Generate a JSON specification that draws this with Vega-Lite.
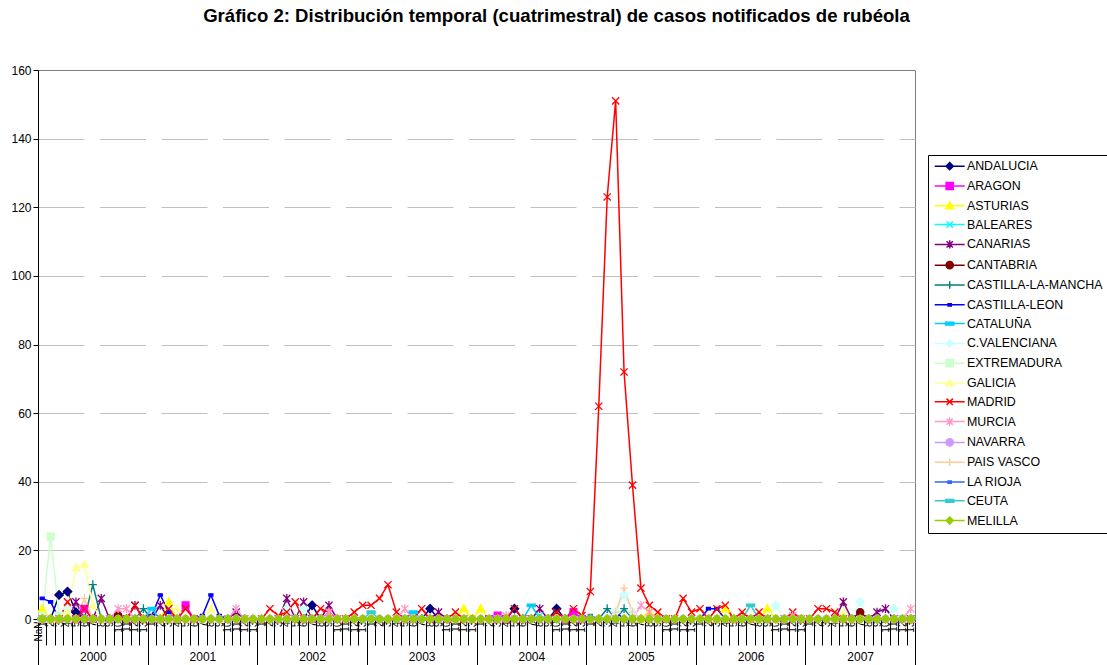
{
"$schema":"https://vega.github.io/schema/vega-lite/v6.json",
"width":877,"height":549,
"autosize":{"type":"none"},
"padding":{"left":38,"top":70,"right":192,"bottom":46},
"background":"white",
"title":{"text":"Gráfico 2: Distribución temporal (cuatrimestral) de casos notificados de rubéola","font":"Liberation Sans","fontSize":18.6,"fontWeight":"bold","color":"#000","anchor":"middle","frame":"group","dx":80,"offset":38},
"config":{"font":"Liberation Sans","view":{"stroke":"#808080"}},
"resolve":{"scale":{"x":"independent"},"axis":{"x":"independent"}},
"layer":[
{
"data":{"values":[
{"s":"ANDALUCIA","t":1,"v":0},{"s":"ANDALUCIA","t":2,"v":0},{"s":"ANDALUCIA","t":3,"v":7},{"s":"ANDALUCIA","t":4,"v":8},{"s":"ANDALUCIA","t":5,"v":2},{"s":"ANDALUCIA","t":6,"v":0},{"s":"ANDALUCIA","t":32,"v":0},{"s":"ANDALUCIA","t":33,"v":4},{"s":"ANDALUCIA","t":34,"v":0},{"s":"ANDALUCIA","t":46,"v":0},{"s":"ANDALUCIA","t":47,"v":3},{"s":"ANDALUCIA","t":48,"v":0},{"s":"ANDALUCIA","t":56,"v":0},{"s":"ANDALUCIA","t":57,"v":3},{"s":"ANDALUCIA","t":58,"v":0},{"s":"ANDALUCIA","t":61,"v":0},{"s":"ANDALUCIA","t":62,"v":3},{"s":"ANDALUCIA","t":63,"v":0},{"s":"ANDALUCIA","t":104,"v":0},
{"s":"ARAGON","t":1,"v":0},{"s":"ARAGON","t":5,"v":0},{"s":"ARAGON","t":6,"v":3},{"s":"ARAGON","t":7,"v":0},{"s":"ARAGON","t":17,"v":0},{"s":"ARAGON","t":18,"v":4},{"s":"ARAGON","t":19,"v":0},{"s":"ARAGON","t":54,"v":0},{"s":"ARAGON","t":55,"v":1},{"s":"ARAGON","t":56,"v":0},{"s":"ARAGON","t":63,"v":0},{"s":"ARAGON","t":64,"v":2},{"s":"ARAGON","t":65,"v":0},{"s":"ARAGON","t":104,"v":0},
{"s":"ASTURIAS","t":1,"v":3},{"s":"ASTURIAS","t":2,"v":0},{"s":"ASTURIAS","t":15,"v":0},{"s":"ASTURIAS","t":16,"v":5},{"s":"ASTURIAS","t":17,"v":0},{"s":"ASTURIAS","t":50,"v":0},{"s":"ASTURIAS","t":51,"v":3},{"s":"ASTURIAS","t":52,"v":0},{"s":"ASTURIAS","t":53,"v":3},{"s":"ASTURIAS","t":54,"v":0},{"s":"ASTURIAS","t":72,"v":0},{"s":"ASTURIAS","t":73,"v":2},{"s":"ASTURIAS","t":74,"v":0},{"s":"ASTURIAS","t":81,"v":0},{"s":"ASTURIAS","t":82,"v":3},{"s":"ASTURIAS","t":83,"v":0},{"s":"ASTURIAS","t":86,"v":0},{"s":"ASTURIAS","t":87,"v":3},{"s":"ASTURIAS","t":88,"v":0},{"s":"ASTURIAS","t":104,"v":0},
{"s":"BALEARES","t":1,"v":0},{"s":"BALEARES","t":59,"v":0},{"s":"BALEARES","t":60,"v":1},{"s":"BALEARES","t":61,"v":0},{"s":"BALEARES","t":104,"v":0},
{"s":"CANARIAS","t":1,"v":0},{"s":"CANARIAS","t":4,"v":0},{"s":"CANARIAS","t":5,"v":5},{"s":"CANARIAS","t":6,"v":0},{"s":"CANARIAS","t":7,"v":0},{"s":"CANARIAS","t":8,"v":6},{"s":"CANARIAS","t":9,"v":0},{"s":"CANARIAS","t":11,"v":0},{"s":"CANARIAS","t":12,"v":4},{"s":"CANARIAS","t":13,"v":0},{"s":"CANARIAS","t":14,"v":0},{"s":"CANARIAS","t":15,"v":4},{"s":"CANARIAS","t":16,"v":0},{"s":"CANARIAS","t":23,"v":0},{"s":"CANARIAS","t":24,"v":2},{"s":"CANARIAS","t":25,"v":0},{"s":"CANARIAS","t":29,"v":0},{"s":"CANARIAS","t":30,"v":6},{"s":"CANARIAS","t":31,"v":0},{"s":"CANARIAS","t":32,"v":5},{"s":"CANARIAS","t":33,"v":0},{"s":"CANARIAS","t":34,"v":0},{"s":"CANARIAS","t":35,"v":4},{"s":"CANARIAS","t":36,"v":0},{"s":"CANARIAS","t":47,"v":0},{"s":"CANARIAS","t":48,"v":2},{"s":"CANARIAS","t":49,"v":0},{"s":"CANARIAS","t":59,"v":0},{"s":"CANARIAS","t":60,"v":3},{"s":"CANARIAS","t":61,"v":0},{"s":"CANARIAS","t":95,"v":0},{"s":"CANARIAS","t":96,"v":5},{"s":"CANARIAS","t":97,"v":0},{"s":"CANARIAS","t":99,"v":0},{"s":"CANARIAS","t":100,"v":2},{"s":"CANARIAS","t":101,"v":3},{"s":"CANARIAS","t":102,"v":0},{"s":"CANARIAS","t":104,"v":0},
{"s":"CANTABRIA","t":1,"v":0},{"s":"CANTABRIA","t":9,"v":0},{"s":"CANTABRIA","t":10,"v":1},{"s":"CANTABRIA","t":11,"v":0},{"s":"CANTABRIA","t":97,"v":0},{"s":"CANTABRIA","t":98,"v":2},{"s":"CANTABRIA","t":99,"v":0},{"s":"CANTABRIA","t":104,"v":0},
{"s":"CASTILLA-LA-MANCHA","t":1,"v":0},{"s":"CASTILLA-LA-MANCHA","t":6,"v":0},{"s":"CASTILLA-LA-MANCHA","t":7,"v":10},{"s":"CASTILLA-LA-MANCHA","t":8,"v":0},{"s":"CASTILLA-LA-MANCHA","t":12,"v":0},{"s":"CASTILLA-LA-MANCHA","t":13,"v":3},{"s":"CASTILLA-LA-MANCHA","t":14,"v":0},{"s":"CASTILLA-LA-MANCHA","t":67,"v":0},{"s":"CASTILLA-LA-MANCHA","t":68,"v":3},{"s":"CASTILLA-LA-MANCHA","t":69,"v":0},{"s":"CASTILLA-LA-MANCHA","t":70,"v":3},{"s":"CASTILLA-LA-MANCHA","t":71,"v":0},{"s":"CASTILLA-LA-MANCHA","t":104,"v":0},
{"s":"CASTILLA-LEON","t":1,"v":6},{"s":"CASTILLA-LEON","t":2,"v":5},{"s":"CASTILLA-LEON","t":3,"v":0},{"s":"CASTILLA-LEON","t":13,"v":0},{"s":"CASTILLA-LEON","t":14,"v":1},{"s":"CASTILLA-LEON","t":15,"v":7},{"s":"CASTILLA-LEON","t":16,"v":2},{"s":"CASTILLA-LEON","t":17,"v":0},{"s":"CASTILLA-LEON","t":19,"v":0},{"s":"CASTILLA-LEON","t":20,"v":1},{"s":"CASTILLA-LEON","t":21,"v":7},{"s":"CASTILLA-LEON","t":22,"v":1},{"s":"CASTILLA-LEON","t":23,"v":0},{"s":"CASTILLA-LEON","t":68,"v":0},{"s":"CASTILLA-LEON","t":69,"v":2},{"s":"CASTILLA-LEON","t":70,"v":0},{"s":"CASTILLA-LEON","t":79,"v":0},{"s":"CASTILLA-LEON","t":80,"v":3},{"s":"CASTILLA-LEON","t":81,"v":3},{"s":"CASTILLA-LEON","t":82,"v":0},{"s":"CASTILLA-LEON","t":104,"v":0},
{"s":"CATALUÑA","t":1,"v":0},{"s":"CATALUÑA","t":13,"v":0},{"s":"CATALUÑA","t":14,"v":3},{"s":"CATALUÑA","t":15,"v":0},{"s":"CATALUÑA","t":44,"v":0},{"s":"CATALUÑA","t":45,"v":2},{"s":"CATALUÑA","t":46,"v":0},{"s":"CATALUÑA","t":58,"v":0},{"s":"CATALUÑA","t":59,"v":4},{"s":"CATALUÑA","t":60,"v":0},{"s":"CATALUÑA","t":104,"v":0},
{"s":"C.VALENCIANA","t":1,"v":0},{"s":"C.VALENCIANA","t":3,"v":0},{"s":"C.VALENCIANA","t":4,"v":3},{"s":"C.VALENCIANA","t":5,"v":0},{"s":"C.VALENCIANA","t":29,"v":0},{"s":"C.VALENCIANA","t":30,"v":3},{"s":"C.VALENCIANA","t":31,"v":0},{"s":"C.VALENCIANA","t":32,"v":3},{"s":"C.VALENCIANA","t":33,"v":0},{"s":"C.VALENCIANA","t":68,"v":0},{"s":"C.VALENCIANA","t":69,"v":2},{"s":"C.VALENCIANA","t":70,"v":7},{"s":"C.VALENCIANA","t":71,"v":2},{"s":"C.VALENCIANA","t":72,"v":0},{"s":"C.VALENCIANA","t":87,"v":0},{"s":"C.VALENCIANA","t":88,"v":4},{"s":"C.VALENCIANA","t":89,"v":0},{"s":"C.VALENCIANA","t":97,"v":0},{"s":"C.VALENCIANA","t":98,"v":5},{"s":"C.VALENCIANA","t":99,"v":0},{"s":"C.VALENCIANA","t":101,"v":0},{"s":"C.VALENCIANA","t":102,"v":3},{"s":"C.VALENCIANA","t":103,"v":0},{"s":"C.VALENCIANA","t":104,"v":0},
{"s":"EXTREMADURA","t":1,"v":1},{"s":"EXTREMADURA","t":2,"v":24},{"s":"EXTREMADURA","t":3,"v":1},{"s":"EXTREMADURA","t":4,"v":0},{"s":"EXTREMADURA","t":104,"v":0},
{"s":"GALICIA","t":1,"v":0},{"s":"GALICIA","t":3,"v":0},{"s":"GALICIA","t":4,"v":2},{"s":"GALICIA","t":5,"v":15},{"s":"GALICIA","t":6,"v":16},{"s":"GALICIA","t":7,"v":4},{"s":"GALICIA","t":8,"v":0},{"s":"GALICIA","t":16,"v":0},{"s":"GALICIA","t":17,"v":3},{"s":"GALICIA","t":18,"v":0},{"s":"GALICIA","t":20,"v":0},{"s":"GALICIA","t":21,"v":3},{"s":"GALICIA","t":22,"v":0},{"s":"GALICIA","t":95,"v":0},{"s":"GALICIA","t":96,"v":2},{"s":"GALICIA","t":97,"v":0},{"s":"GALICIA","t":104,"v":0},
{"s":"MADRID","t":1,"v":0},{"s":"MADRID","t":3,"v":0},{"s":"MADRID","t":4,"v":5},{"s":"MADRID","t":5,"v":0},{"s":"MADRID","t":6,"v":3},{"s":"MADRID","t":7,"v":0},{"s":"MADRID","t":11,"v":0},{"s":"MADRID","t":12,"v":4},{"s":"MADRID","t":13,"v":0},{"s":"MADRID","t":15,"v":0},{"s":"MADRID","t":16,"v":3},{"s":"MADRID","t":17,"v":0},{"s":"MADRID","t":18,"v":3},{"s":"MADRID","t":19,"v":0},{"s":"MADRID","t":27,"v":0},{"s":"MADRID","t":28,"v":3},{"s":"MADRID","t":29,"v":1},{"s":"MADRID","t":30,"v":2},{"s":"MADRID","t":31,"v":5},{"s":"MADRID","t":32,"v":0},{"s":"MADRID","t":33,"v":0},{"s":"MADRID","t":34,"v":3},{"s":"MADRID","t":35,"v":2},{"s":"MADRID","t":36,"v":0},{"s":"MADRID","t":37,"v":0},{"s":"MADRID","t":38,"v":2},{"s":"MADRID","t":39,"v":4},{"s":"MADRID","t":40,"v":4},{"s":"MADRID","t":41,"v":6},{"s":"MADRID","t":42,"v":10},{"s":"MADRID","t":43,"v":2},{"s":"MADRID","t":44,"v":0},{"s":"MADRID","t":45,"v":0},{"s":"MADRID","t":46,"v":3},{"s":"MADRID","t":47,"v":0},{"s":"MADRID","t":49,"v":0},{"s":"MADRID","t":50,"v":2},{"s":"MADRID","t":51,"v":0},{"s":"MADRID","t":56,"v":0},{"s":"MADRID","t":57,"v":3},{"s":"MADRID","t":58,"v":0},{"s":"MADRID","t":61,"v":0},{"s":"MADRID","t":62,"v":2},{"s":"MADRID","t":63,"v":0},{"s":"MADRID","t":64,"v":3},{"s":"MADRID","t":65,"v":1},{"s":"MADRID","t":66,"v":8},{"s":"MADRID","t":67,"v":62},{"s":"MADRID","t":68,"v":123},{"s":"MADRID","t":69,"v":151},{"s":"MADRID","t":70,"v":72},{"s":"MADRID","t":71,"v":39},{"s":"MADRID","t":72,"v":9},{"s":"MADRID","t":73,"v":4},{"s":"MADRID","t":74,"v":2},{"s":"MADRID","t":75,"v":0},{"s":"MADRID","t":76,"v":0},{"s":"MADRID","t":77,"v":6},{"s":"MADRID","t":78,"v":2},{"s":"MADRID","t":79,"v":3},{"s":"MADRID","t":80,"v":0},{"s":"MADRID","t":81,"v":3},{"s":"MADRID","t":82,"v":4},{"s":"MADRID","t":83,"v":0},{"s":"MADRID","t":84,"v":2},{"s":"MADRID","t":85,"v":0},{"s":"MADRID","t":86,"v":2},{"s":"MADRID","t":87,"v":0},{"s":"MADRID","t":89,"v":0},{"s":"MADRID","t":90,"v":2},{"s":"MADRID","t":91,"v":0},{"s":"MADRID","t":92,"v":0},{"s":"MADRID","t":93,"v":3},{"s":"MADRID","t":94,"v":3},{"s":"MADRID","t":95,"v":2},{"s":"MADRID","t":96,"v":0},{"s":"MADRID","t":104,"v":0},
{"s":"MURCIA","t":1,"v":0},{"s":"MURCIA","t":9,"v":0},{"s":"MURCIA","t":10,"v":3},{"s":"MURCIA","t":11,"v":3},{"s":"MURCIA","t":12,"v":0},{"s":"MURCIA","t":23,"v":0},{"s":"MURCIA","t":24,"v":3},{"s":"MURCIA","t":25,"v":0},{"s":"MURCIA","t":34,"v":0},{"s":"MURCIA","t":35,"v":2},{"s":"MURCIA","t":36,"v":0},{"s":"MURCIA","t":43,"v":0},{"s":"MURCIA","t":44,"v":3},{"s":"MURCIA","t":45,"v":0},{"s":"MURCIA","t":55,"v":0},{"s":"MURCIA","t":56,"v":1},{"s":"MURCIA","t":57,"v":0},{"s":"MURCIA","t":71,"v":0},{"s":"MURCIA","t":72,"v":4},{"s":"MURCIA","t":73,"v":2},{"s":"MURCIA","t":74,"v":0},{"s":"MURCIA","t":89,"v":0},{"s":"MURCIA","t":90,"v":1},{"s":"MURCIA","t":91,"v":0},{"s":"MURCIA","t":103,"v":0},{"s":"MURCIA","t":104,"v":3},
{"s":"NAVARRA","t":1,"v":0},{"s":"NAVARRA","t":2,"v":0},{"s":"NAVARRA","t":3,"v":0},{"s":"NAVARRA","t":4,"v":0},{"s":"NAVARRA","t":5,"v":0},{"s":"NAVARRA","t":6,"v":0},{"s":"NAVARRA","t":7,"v":0},{"s":"NAVARRA","t":8,"v":0},{"s":"NAVARRA","t":9,"v":0},{"s":"NAVARRA","t":10,"v":0},{"s":"NAVARRA","t":11,"v":0},{"s":"NAVARRA","t":12,"v":0},{"s":"NAVARRA","t":13,"v":0},{"s":"NAVARRA","t":14,"v":0},{"s":"NAVARRA","t":15,"v":0},{"s":"NAVARRA","t":16,"v":0},{"s":"NAVARRA","t":17,"v":0},{"s":"NAVARRA","t":18,"v":0},{"s":"NAVARRA","t":19,"v":0},{"s":"NAVARRA","t":20,"v":0},{"s":"NAVARRA","t":21,"v":0},{"s":"NAVARRA","t":22,"v":0},{"s":"NAVARRA","t":23,"v":0},{"s":"NAVARRA","t":24,"v":0},{"s":"NAVARRA","t":25,"v":0},{"s":"NAVARRA","t":26,"v":0},{"s":"NAVARRA","t":27,"v":0},{"s":"NAVARRA","t":28,"v":0},{"s":"NAVARRA","t":29,"v":0},{"s":"NAVARRA","t":30,"v":0},{"s":"NAVARRA","t":31,"v":0},{"s":"NAVARRA","t":32,"v":0},{"s":"NAVARRA","t":33,"v":0},{"s":"NAVARRA","t":34,"v":0},{"s":"NAVARRA","t":35,"v":0},{"s":"NAVARRA","t":36,"v":0},{"s":"NAVARRA","t":37,"v":0},{"s":"NAVARRA","t":38,"v":0},{"s":"NAVARRA","t":39,"v":0},{"s":"NAVARRA","t":40,"v":0},{"s":"NAVARRA","t":41,"v":0},{"s":"NAVARRA","t":42,"v":0},{"s":"NAVARRA","t":43,"v":0},{"s":"NAVARRA","t":44,"v":0},{"s":"NAVARRA","t":45,"v":0},{"s":"NAVARRA","t":46,"v":0},{"s":"NAVARRA","t":47,"v":0},{"s":"NAVARRA","t":48,"v":0},{"s":"NAVARRA","t":49,"v":0},{"s":"NAVARRA","t":50,"v":0},{"s":"NAVARRA","t":51,"v":0},{"s":"NAVARRA","t":52,"v":0},{"s":"NAVARRA","t":53,"v":0},{"s":"NAVARRA","t":54,"v":0},{"s":"NAVARRA","t":55,"v":0},{"s":"NAVARRA","t":56,"v":0},{"s":"NAVARRA","t":57,"v":0},{"s":"NAVARRA","t":58,"v":0},{"s":"NAVARRA","t":59,"v":0},{"s":"NAVARRA","t":60,"v":0},{"s":"NAVARRA","t":61,"v":0},{"s":"NAVARRA","t":62,"v":0},{"s":"NAVARRA","t":63,"v":0},{"s":"NAVARRA","t":64,"v":0},{"s":"NAVARRA","t":65,"v":0},{"s":"NAVARRA","t":66,"v":0},{"s":"NAVARRA","t":67,"v":0},{"s":"NAVARRA","t":68,"v":0},{"s":"NAVARRA","t":69,"v":0},{"s":"NAVARRA","t":70,"v":0},{"s":"NAVARRA","t":71,"v":0},{"s":"NAVARRA","t":72,"v":0},{"s":"NAVARRA","t":73,"v":0},{"s":"NAVARRA","t":74,"v":0},{"s":"NAVARRA","t":75,"v":0},{"s":"NAVARRA","t":76,"v":0},{"s":"NAVARRA","t":77,"v":0},{"s":"NAVARRA","t":78,"v":0},{"s":"NAVARRA","t":79,"v":0},{"s":"NAVARRA","t":80,"v":0},{"s":"NAVARRA","t":81,"v":0},{"s":"NAVARRA","t":82,"v":0},{"s":"NAVARRA","t":83,"v":0},{"s":"NAVARRA","t":84,"v":0},{"s":"NAVARRA","t":85,"v":0},{"s":"NAVARRA","t":86,"v":0},{"s":"NAVARRA","t":87,"v":0},{"s":"NAVARRA","t":88,"v":0},{"s":"NAVARRA","t":89,"v":0},{"s":"NAVARRA","t":90,"v":0},{"s":"NAVARRA","t":91,"v":0},{"s":"NAVARRA","t":92,"v":0},{"s":"NAVARRA","t":93,"v":0},{"s":"NAVARRA","t":94,"v":0},{"s":"NAVARRA","t":95,"v":0},{"s":"NAVARRA","t":96,"v":0},{"s":"NAVARRA","t":97,"v":0},{"s":"NAVARRA","t":98,"v":0},{"s":"NAVARRA","t":99,"v":0},{"s":"NAVARRA","t":100,"v":0},{"s":"NAVARRA","t":101,"v":0},{"s":"NAVARRA","t":102,"v":0},{"s":"NAVARRA","t":103,"v":0},{"s":"NAVARRA","t":104,"v":0},
{"s":"PAIS VASCO","t":1,"v":0},{"s":"PAIS VASCO","t":5,"v":0},{"s":"PAIS VASCO","t":6,"v":6},{"s":"PAIS VASCO","t":7,"v":0},{"s":"PAIS VASCO","t":68,"v":0},{"s":"PAIS VASCO","t":69,"v":2},{"s":"PAIS VASCO","t":70,"v":9},{"s":"PAIS VASCO","t":71,"v":2},{"s":"PAIS VASCO","t":72,"v":0},{"s":"PAIS VASCO","t":104,"v":0},
{"s":"LA RIOJA","t":1,"v":0},{"s":"LA RIOJA","t":65,"v":0},{"s":"LA RIOJA","t":66,"v":1},{"s":"LA RIOJA","t":67,"v":0},{"s":"LA RIOJA","t":104,"v":0},
{"s":"CEUTA","t":1,"v":0},{"s":"CEUTA","t":39,"v":0},{"s":"CEUTA","t":40,"v":2},{"s":"CEUTA","t":41,"v":0},{"s":"CEUTA","t":84,"v":0},{"s":"CEUTA","t":85,"v":4},{"s":"CEUTA","t":86,"v":0},{"s":"CEUTA","t":104,"v":0},
{"s":"MELILLA","t":1,"v":0},{"s":"MELILLA","t":2,"v":0},{"s":"MELILLA","t":3,"v":0},{"s":"MELILLA","t":4,"v":0},{"s":"MELILLA","t":5,"v":0},{"s":"MELILLA","t":6,"v":0},{"s":"MELILLA","t":7,"v":0},{"s":"MELILLA","t":8,"v":0},{"s":"MELILLA","t":9,"v":0},{"s":"MELILLA","t":10,"v":0},{"s":"MELILLA","t":11,"v":0},{"s":"MELILLA","t":12,"v":0},{"s":"MELILLA","t":13,"v":0},{"s":"MELILLA","t":14,"v":0},{"s":"MELILLA","t":15,"v":0},{"s":"MELILLA","t":16,"v":0},{"s":"MELILLA","t":17,"v":0},{"s":"MELILLA","t":18,"v":0},{"s":"MELILLA","t":19,"v":0},{"s":"MELILLA","t":20,"v":0},{"s":"MELILLA","t":21,"v":0},{"s":"MELILLA","t":22,"v":0},{"s":"MELILLA","t":23,"v":0},{"s":"MELILLA","t":24,"v":0},{"s":"MELILLA","t":25,"v":0},{"s":"MELILLA","t":26,"v":0},{"s":"MELILLA","t":27,"v":0},{"s":"MELILLA","t":28,"v":0},{"s":"MELILLA","t":29,"v":0},{"s":"MELILLA","t":30,"v":0},{"s":"MELILLA","t":31,"v":0},{"s":"MELILLA","t":32,"v":0},{"s":"MELILLA","t":33,"v":0},{"s":"MELILLA","t":34,"v":0},{"s":"MELILLA","t":35,"v":0},{"s":"MELILLA","t":36,"v":0},{"s":"MELILLA","t":37,"v":0},{"s":"MELILLA","t":38,"v":0},{"s":"MELILLA","t":39,"v":0},{"s":"MELILLA","t":40,"v":0},{"s":"MELILLA","t":41,"v":0},{"s":"MELILLA","t":42,"v":0},{"s":"MELILLA","t":43,"v":0},{"s":"MELILLA","t":44,"v":0},{"s":"MELILLA","t":45,"v":0},{"s":"MELILLA","t":46,"v":0},{"s":"MELILLA","t":47,"v":0},{"s":"MELILLA","t":48,"v":0},{"s":"MELILLA","t":49,"v":0},{"s":"MELILLA","t":50,"v":0},{"s":"MELILLA","t":51,"v":0},{"s":"MELILLA","t":52,"v":0},{"s":"MELILLA","t":53,"v":0},{"s":"MELILLA","t":54,"v":0},{"s":"MELILLA","t":55,"v":0},{"s":"MELILLA","t":56,"v":0},{"s":"MELILLA","t":57,"v":0},{"s":"MELILLA","t":58,"v":0},{"s":"MELILLA","t":59,"v":0},{"s":"MELILLA","t":60,"v":0},{"s":"MELILLA","t":61,"v":0},{"s":"MELILLA","t":62,"v":0},{"s":"MELILLA","t":63,"v":0},{"s":"MELILLA","t":64,"v":0},{"s":"MELILLA","t":65,"v":0},{"s":"MELILLA","t":66,"v":0},{"s":"MELILLA","t":67,"v":0},{"s":"MELILLA","t":68,"v":0},{"s":"MELILLA","t":69,"v":0},{"s":"MELILLA","t":70,"v":0},{"s":"MELILLA","t":71,"v":0},{"s":"MELILLA","t":72,"v":0},{"s":"MELILLA","t":73,"v":0},{"s":"MELILLA","t":74,"v":0},{"s":"MELILLA","t":75,"v":0},{"s":"MELILLA","t":76,"v":0},{"s":"MELILLA","t":77,"v":0},{"s":"MELILLA","t":78,"v":0},{"s":"MELILLA","t":79,"v":0},{"s":"MELILLA","t":80,"v":0},{"s":"MELILLA","t":81,"v":0},{"s":"MELILLA","t":82,"v":0},{"s":"MELILLA","t":83,"v":0},{"s":"MELILLA","t":84,"v":0},{"s":"MELILLA","t":85,"v":0},{"s":"MELILLA","t":86,"v":0},{"s":"MELILLA","t":87,"v":0},{"s":"MELILLA","t":88,"v":0},{"s":"MELILLA","t":89,"v":0},{"s":"MELILLA","t":90,"v":0},{"s":"MELILLA","t":91,"v":0},{"s":"MELILLA","t":92,"v":0},{"s":"MELILLA","t":93,"v":0},{"s":"MELILLA","t":94,"v":0},{"s":"MELILLA","t":95,"v":0},{"s":"MELILLA","t":96,"v":0},{"s":"MELILLA","t":97,"v":0},{"s":"MELILLA","t":98,"v":0},{"s":"MELILLA","t":99,"v":0},{"s":"MELILLA","t":100,"v":0},{"s":"MELILLA","t":101,"v":0},{"s":"MELILLA","t":102,"v":0},{"s":"MELILLA","t":103,"v":0},{"s":"MELILLA","t":104,"v":0}
]},
"encoding":{
"x":{"field":"t","type":"ordinal","scale":{"type":"band","paddingInner":0,"paddingOuter":0},"axis":{"orient":"bottom","title":null,"tickBand":"extent","tickSize":26,"tickColor":"#000","domainColor":"#000","labelAngle":-90,"labelPadding":-24,"labelFontSize":10,"labelOverlap":false,"labelBound":false,"labelColor":"#000","labelExpr":"((datum.value-1)%13)+1","grid":false}},
"y":{"field":"v","type":"quantitative","scale":{"domain":[0,160],"nice":false},"axis":{"title":null,"values":[0,20,40,60,80,100,120,140,160],"tickSize":5,"tickColor":"#000","domainColor":"#000","labelFontSize":12,"labelPadding":2,"labelColor":"#000","grid":true,"gridColor":{"condition":{"test":"datum.value >= 160","value":"transparent"},"value":"#c0c0c0"},"gridDash":[46,15.5]}}
},
"layer":[
{
"mark":{"type":"line","strokeWidth":1.5},
"encoding":{
"stroke":{
"field":"s","type":"nominal",
"scale":{"domain":["ANDALUCIA","ARAGON","ASTURIAS","BALEARES","CANARIAS","CANTABRIA","CASTILLA-LA-MANCHA","CASTILLA-LEON","CATALUÑA","C.VALENCIANA","EXTREMADURA","GALICIA","MADRID","MURCIA","NAVARRA","PAIS VASCO","LA RIOJA","CEUTA","MELILLA"],"range":["#000080","#FF00FF","#FFFF00","#00FFFF","#800080","#800000","#008080","#0000FF","#00CCFF","#CCFFFF","#CCFFCC","#FFFF99","#FF0000","#FF99CC","#CC99FF","#FFCC99","#3366FF","#33CCCC","#99CC00"]},
"legend":{
"title":null,"orient":"none","legendX":890,"legendY":85,"padding":5,"strokeColor":"#000","fillColor":"#fff","labelFont":"Liberation Sans","labelFontSize":12.4,"labelColor":"#000","labelLimit":250,"symbolSize":81,"symbolOffset":10.5,"labelOffset":11,"rowPadding":5.8,"symbolOpacity":1,"symbolStrokeWidth":1.5,
"encode":{
"symbols":{
"update":{
"shape":{"signal":"['M-3.33,0H3.33M0,-0.8L0.8,0L0,0.8L-0.8,0Z','M-3.33,0H3.33M-0.8,-0.8H0.8V0.8H-0.8Z','M-3.33,0H3.33M0,-0.85L0.85,0.65H-0.85Z','M-3.33,0H3.33M-0.7,-0.7L0.7,0.7M-0.7,0.7L0.7,-0.7','M-3.33,0H3.33M-0.7,-0.7L0.7,0.7M-0.7,0.7L0.7,-0.7M0,-0.9V0.9','M-3.33,0H3.33M-0.8,0A0.8,0.8,0,1,0,0.8,0A0.8,0.8,0,1,0,-0.8,0Z','M-3.33,0H3.33M0,-0.85V0.85','M-3.33,0H3.33M-0.35,-0.25H0.35V0.25H-0.35Z','M-3.33,0H3.33M-0.9,-0.3H0.9V0.3H-0.9Z'][indexof(['ANDALUCIA','ARAGON','ASTURIAS','BALEARES','CANARIAS','CANTABRIA','CASTILLA-LA-MANCHA','CASTILLA-LEON','CATALUÑA','C.VALENCIANA','EXTREMADURA','GALICIA','MADRID','MURCIA','NAVARRA','PAIS VASCO','LA RIOJA','CEUTA','MELILLA'],datum.value)%9]"},
"fill":{"signal":"scale('stroke', datum.value)"},
"strokeWidth":{"value":1.5},
"opacity":{"value":1}
}
}
}
}
}
}
},
{
"mark":{"type":"point","opacity":1,"size":64,"strokeWidth":1.3,"filled":false},
"encoding":{
"color":{"field":"s","type":"nominal","scale":{"domain":["ANDALUCIA","ARAGON","ASTURIAS","BALEARES","CANARIAS","CANTABRIA","CASTILLA-LA-MANCHA","CASTILLA-LEON","CATALUÑA","C.VALENCIANA","EXTREMADURA","GALICIA","MADRID","MURCIA","NAVARRA","PAIS VASCO","LA RIOJA","CEUTA","MELILLA","~"],"range":["#000080","#FF00FF","#FFFF00","#00FFFF","#800080","#800000","#008080","#0000FF","#00CCFF","#CCFFFF","#CCFFCC","#FFFF99","#FF0000","#FF99CC","#CC99FF","#FFCC99","#3366FF","#33CCCC","#99CC00","#000000"]},"legend":null},
"fill":{"field":"s","type":"nominal","scale":{"domain":["ANDALUCIA","ARAGON","ASTURIAS","BALEARES","CANARIAS","CANTABRIA","CASTILLA-LA-MANCHA","CASTILLA-LEON","CATALUÑA","C.VALENCIANA","EXTREMADURA","GALICIA","MADRID","MURCIA","NAVARRA","PAIS VASCO","LA RIOJA","CEUTA","MELILLA","~~"],"range":["#000080","#FF00FF","#FFFF00","#00FFFF","#800080","#800000","#008080","#0000FF","#00CCFF","#CCFFFF","#CCFFCC","#FFFF99","#FF0000","#FF99CC","#CC99FF","#FFCC99","#3366FF","#33CCCC","#99CC00","#000000"]},"legend":null},
"shape":{"field":"s","type":"nominal","scale":{"domain":["ANDALUCIA","ARAGON","ASTURIAS","BALEARES","CANARIAS","CANTABRIA","CASTILLA-LA-MANCHA","CASTILLA-LEON","CATALUÑA","C.VALENCIANA","EXTREMADURA","GALICIA","MADRID","MURCIA","NAVARRA","PAIS VASCO","LA RIOJA","CEUTA","MELILLA","~~~"],"range":["M0,-1.05L1.05,0L0,1.05L-1.05,0Z","M-0.85,-0.85H0.85V0.85H-0.85Z","M0,-1L1,0.8H-1Z","M-0.9,-0.9L0.9,0.9M-0.9,0.9L0.9,-0.9","M-0.9,-0.9L0.9,0.9M-0.9,0.9L0.9,-0.9M0,-1.1V1.1","M-0.9,0A0.9,0.9,0,1,0,0.9,0A0.9,0.9,0,1,0,-0.9,0Z","M-1,0H1M0,-1.1V1.1","M-0.5,-0.3H0.5V0.3H-0.5Z","M-1,-0.3H1V0.3H-1Z","M0,-1.05L1.05,0L0,1.05L-1.05,0Z","M-0.85,-0.85H0.85V0.85H-0.85Z","M0,-1L1,0.8H-1Z","M-0.9,-0.9L0.9,0.9M-0.9,0.9L0.9,-0.9","M-0.9,-0.9L0.9,0.9M-0.9,0.9L0.9,-0.9M0,-1.1V1.1","M-0.9,0A0.9,0.9,0,1,0,0.9,0A0.9,0.9,0,1,0,-0.9,0Z","M-1,0H1M0,-1.1V1.1","M-0.5,-0.3H0.5V0.3H-0.5Z","M-1,-0.3H1V0.3H-1Z","M0,-1.05L1.05,0L0,1.05L-1.05,0Z","circle"]},"legend":null}
}
}
]
},
{
"data":{"values":[{"yr":"2000"},{"yr":"2001"},{"yr":"2002"},{"yr":"2003"},{"yr":"2004"},{"yr":"2005"},{"yr":"2006"},{"yr":"2007"}]},
"mark":{"type":"tick","opacity":0},
"encoding":{"x":{"field":"yr","type":"ordinal","scale":{"type":"band","paddingInner":0,"paddingOuter":0},"axis":{"orient":"bottom","title":null,"tickBand":"extent","tickSize":46,"tickColor":"#000","domain":false,"labelPadding":-14,"labelFontSize":12,"labelAngle":0,"labelColor":"#000","grid":false}}}
}
]
}
